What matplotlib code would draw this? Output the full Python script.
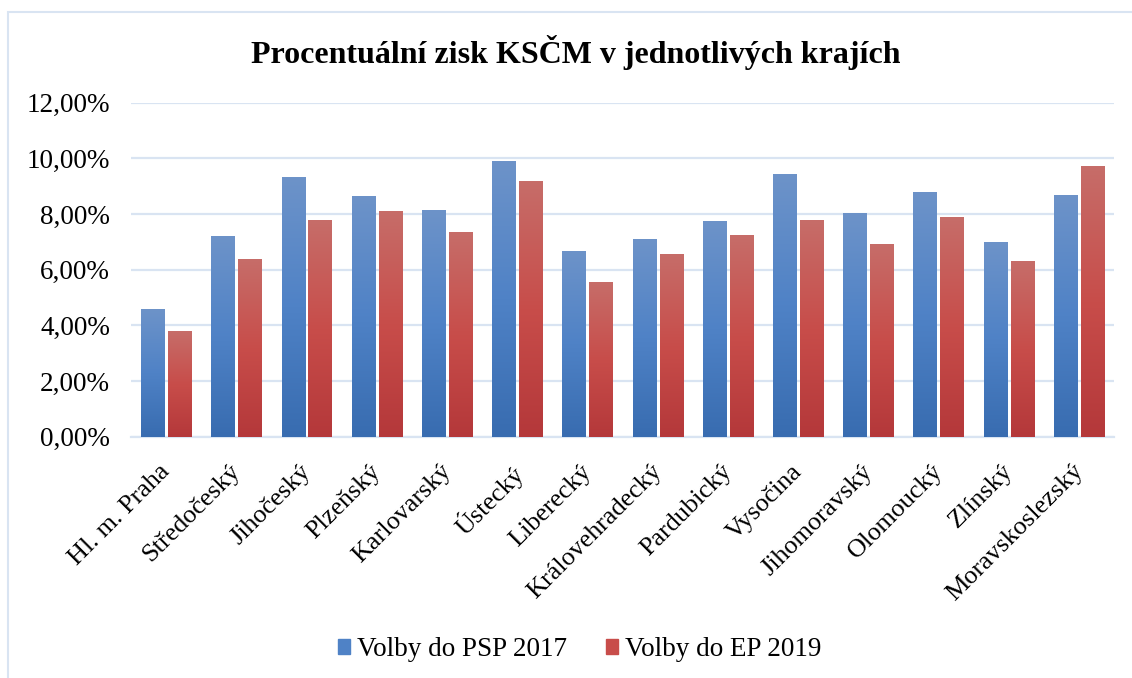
import numpy as np
import matplotlib.pyplot as plt
import matplotlib.ticker as ticker
from matplotlib.colors import LinearSegmentedColormap
from matplotlib.patches import Rectangle
from matplotlib.transforms import ScaledTranslation

plt.rcParams['font.family'] = ['Liberation Serif', 'DejaVu Serif']

# === DATA ===
kraje = ['Hl. m. Praha', 'Středočeský', 'Jihočeský', 'Plzeňský', 'Karlovarský',
         'Ústecký', 'Liberecký', 'Královehradecký', 'Pardubický', 'Vysočina',
         'Jihomoravský', 'Olomoucký', 'Zlínský', 'Moravskoslezský']
psp_2017 = [4.59, 7.21, 9.33, 8.65, 8.15, 9.91, 6.67, 7.10, 7.75, 9.44, 8.04, 8.79, 7.00, 8.68]
ep_2019 = [3.80, 6.38, 7.79, 8.11, 7.36, 9.19, 5.56, 6.56, 7.25, 7.79, 6.92, 7.89, 6.31, 9.73]
series_names = ['Volby do PSP 2017', 'Volby do EP 2019']

# gradient stops (bottom -> top)
blue_cmap = LinearSegmentedColormap.from_list('b', ['#386CB0', '#4F82C6', '#6D93C9'])
red_cmap = LinearSegmentedColormap.from_list('r', ['#B4383A', '#C84D4A', '#C66D69'])
GRID_COLOR = '#D9E4F2'
FS = 19.5

fig = plt.figure(figsize=(11.32, 6.78), dpi=100)
ax = fig.add_axes([0.1157, 0.3559, 0.8684, 0.4926])

# outer chart border
fig.patches.append(Rectangle((8 / 1132, -0.1), 1.2, 1 - 12 / 678 + 0.1, transform=fig.transFigure,
                             fill=False, edgecolor=GRID_COLOR, linewidth=1.5, zorder=0))

x = np.arange(len(kraje))
width = 0.328
offset = 0.192

grad = np.linspace(0, 1, 256).reshape(-1, 1)


def gradient_bars(xpos, values, cmap, label):
    bars = ax.bar(xpos, values, width=width, color=cmap(0.5), label=label, zorder=2)
    for b in bars:
        x0, y0 = b.get_x(), b.get_y()
        w, h = b.get_width(), b.get_height()
        im = ax.imshow(grad, cmap=cmap, origin='lower', aspect='auto',
                       extent=(x0, x0 + w, y0, y0 + h), zorder=3)
        im.set_clip_path(b)
    return bars


gradient_bars(x - offset, psp_2017, blue_cmap, series_names[0])
gradient_bars(x + offset, ep_2019, red_cmap, series_names[1])

ax.set_xlim(-0.5, len(kraje) - 0.5)
ax.set_ylim(0, 12)
ax.set_yticks(np.arange(0, 13, 2))
ax.yaxis.set_major_formatter(ticker.FuncFormatter(lambda v, p: f'{v:.2f}%'.replace('.', ',')))
ax.grid(axis='y', color=GRID_COLOR, linewidth=1.6, zorder=0)
ax.set_axisbelow(True)
for s in ['top', 'right', 'left']:
    ax.spines[s].set_visible(False)
ax.spines['bottom'].set_color(GRID_COLOR)
ax.spines['bottom'].set_linewidth(1.6)
ax.tick_params(axis='both', length=0, labelsize=FS, colors='black')
ax.tick_params(axis='y', pad=15)

ax.set_xticks(x)
ax.set_xticklabels(kraje, rotation=45, ha='right', va='top', rotation_mode='anchor', fontsize=18.8)
ax.tick_params(axis='x', pad=17)
# nudge category labels slightly left
shift = ScaledTranslation(-7 / 100, 0, fig.dpi_scale_trans)
for lbl in ax.get_xticklabels():
    lbl.set_transform(lbl.get_transform() + shift)

fig.text(0.509, 0.923, 'Procentuální zisk KSČM v jednotlivých krajích',
         ha='center', va='center', fontsize=23, fontweight='bold')

handles = [Rectangle((0, 0), 1, 1, color=blue_cmap(0.5)),
           Rectangle((0, 0), 1, 1, color=red_cmap(0.5))]
fig.legend(handles, series_names, loc='center', bbox_to_anchor=(0.512, 0.042), ncol=2,
           frameon=False, fontsize=FS, handlelength=0.45, handleheight=0.45,
           handletextpad=0.25, columnspacing=1.45)

fig.savefig('out.png', dpi=100)
